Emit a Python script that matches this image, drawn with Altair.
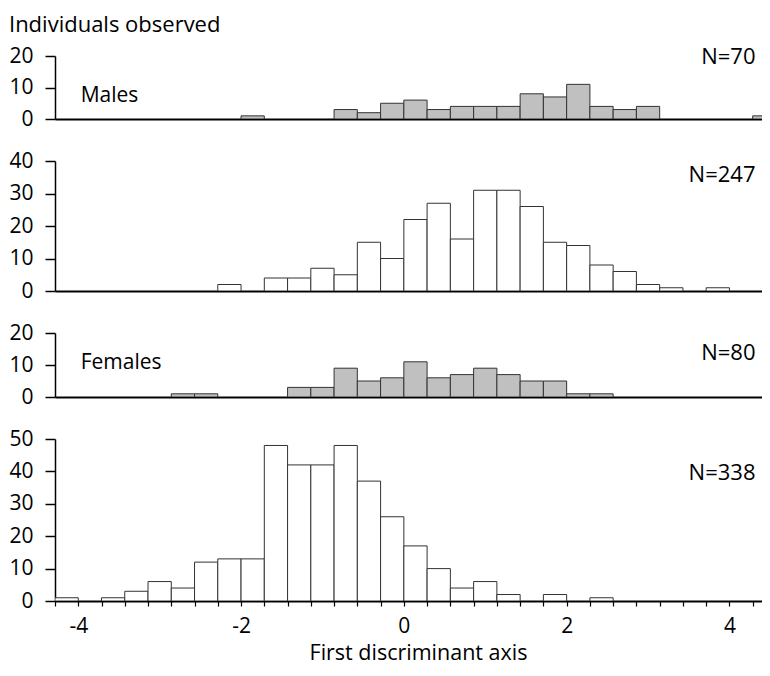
import altair as alt
import pandas as pd

FONT = "Open Sans"

# histogram bins: width 2/7, first edge at -30/7
bin_width = 2 / 7
x_first_edge = -30 / 7
x_view_end = 4.40

males = [0] * 8 + [1, 0, 0, 0, 3, 2, 5, 6, 3, 4, 4, 4, 8, 7, 11, 4, 3, 4, 0, 0, 0, 0, 1]
group2 = [0] * 7 + [2, 0, 4, 4, 7, 5, 15, 10, 22, 27, 16, 31, 31, 26, 15, 14, 8, 6, 2, 1, 0, 1, 0, 0]
females = [0] * 5 + [1, 1, 0, 0, 0, 3, 3, 9, 5, 6, 11, 6, 7, 9, 7, 5, 5, 1, 1] + [0] * 7
group4 = [1, 0, 1, 3, 6, 4, 12, 13, 13, 48, 42, 42, 48, 37, 26, 17, 10, 4, 6, 2, 0, 2, 0, 1] + [0] * 7

n_labels = ["N=70", "N=247", "N=80", "N=338"]
y_maxima = [20, 40, 20, 50]
panel_names = ["Males", None, "Females", None]
bin_edges = [x_first_edge + i * bin_width for i in range(31)]

PLOT_W = 707


def make_panel(counts, ymax, fill, n_label, n_y, height, name=None, name_y=None, bottom=False):
    df = pd.DataFrame({"k": list(range(len(counts))), "count": counts})
    df["start"] = x_first_edge + df["k"] * bin_width
    df["end"] = df["start"] + bin_width
    df = df[df["count"] > 0]

    xscale = alt.Scale(domain=[x_first_edge, x_view_end], nice=False, zero=False)
    yscale = alt.Scale(domain=[0, ymax], nice=False)

    if bottom:
        xaxis = alt.Axis(
            values=bin_edges, tickCount=100, tickSize=5, tickColor="black", tickWidth=1.2,
            labelExpr="abs(datum.value - round(datum.value)) < 0.01 && round(datum.value) % 2 == 0 ? '' + round(datum.value) : ''",
            labelFontSize=21, labelFont=FONT, labelColor="black", labelPadding=9,
            labelOverlap=False, labelFlush=False,
            title="First discriminant axis", titleFontSize=21.5, titleFont=FONT,
            titleFontWeight="normal", titleColor="black", titlePadding=6, titleX=363,
            domainColor="black", domainWidth=1.8, grid=False,
        )
    else:
        xaxis = alt.Axis(labels=False, ticks=False, title=None, grid=False,
                         domainColor="black", domainWidth=1.8)

    yaxis = alt.Axis(
        values=list(range(0, ymax + 1, 10)), tickCount=20, tickSize=10, tickColor="black",
        tickWidth=1.5, labelFontSize=21, labelFont=FONT, labelColor="black", labelPadding=12,
        labelOverlap=False,
        domainColor="black", domainWidth=1.5, grid=False, title=None,
    )

    bars = alt.Chart(df).mark_rect(fill=fill, stroke="#333333", strokeWidth=1, clip=True).encode(
        x=alt.X("start:Q", scale=xscale, axis=xaxis),
        x2="end:Q",
        y=alt.Y("count:Q", scale=yscale, axis=yaxis),
        y2=alt.datum(0),
    )
    first_k = str(int(df["k"].iloc[0]))
    layers = [bars]
    layers.append(
        alt.Chart(df).mark_text(text=n_label, align="right", baseline="alphabetic",
                                fontSize=22, font=FONT, color="black").encode(
            x=alt.datum(4.32), y=alt.datum(n_y)
        ).transform_filter("datum.k == " + first_k)
    )
    if name:
        layers.append(
            alt.Chart(df).mark_text(text=name, align="left", baseline="alphabetic",
                                    fontSize=21, font=FONT, color="black").encode(
                x=alt.datum(-3.97), y=alt.datum(name_y)
            ).transform_filter("datum.k == " + first_k)
        )
    return alt.layer(*layers).properties(width=PLOT_W, height=height)


p1 = make_panel(males, y_maxima[0], "#c0c0c0", n_labels[0], 17.5, 63, panel_names[0], 5.3)
p2 = make_panel(group2, y_maxima[1], "white", n_labels[1], 33.5, 130)
p3 = make_panel(females, y_maxima[2], "#c0c0c0", n_labels[2], 11.5, 64, panel_names[2], 8.75)
p4 = make_panel(group4, y_maxima[3], "white", n_labels[3], 37.4, 162, bottom=True)

chart = alt.vconcat(
    p1, p2, p3, p4,
    spacing=42,
    bounds="flush",
    title=alt.TitleParams("Individuals observed", anchor="start", fontSize=22, font=FONT,
                          fontWeight="normal", color="black", offset=8),
    padding={"left": 0, "top": 6, "right": 0, "bottom": 2},
).configure_view(stroke=None).configure_axis(labelOverlap=False)

chart.save("out.html", embed_options={"renderer": "svg", "actions": False})
